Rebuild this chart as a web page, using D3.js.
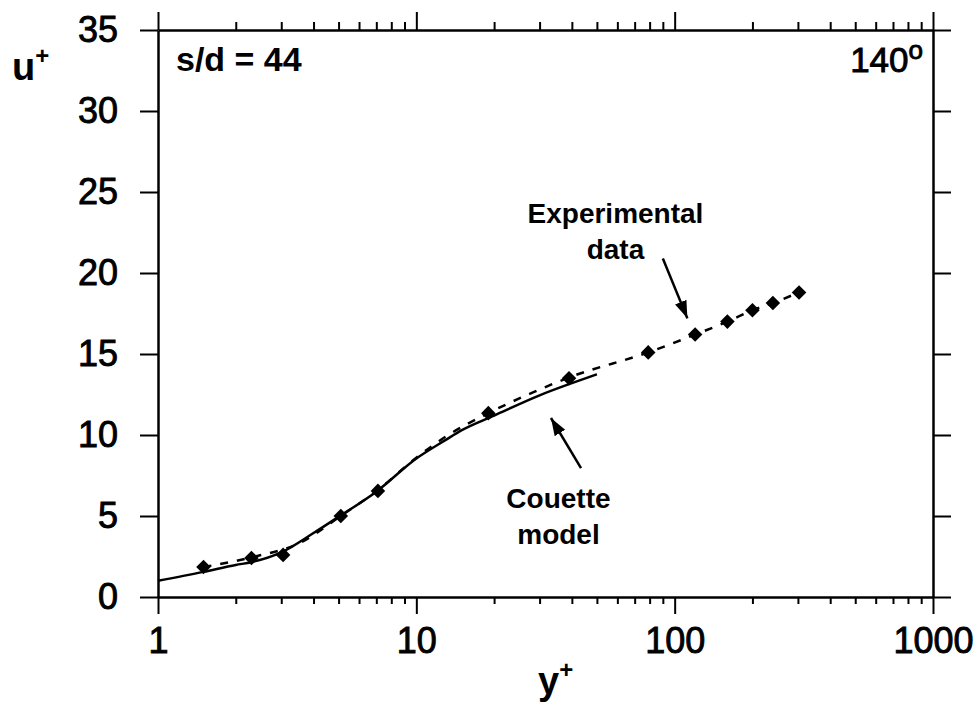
<!DOCTYPE html>
<html>
<head>
<meta charset="utf-8">
<script src="https://cdn.jsdelivr.net/npm/d3@7"></script>
<style>
  body { margin: 0; background: #fff; }
  text { font-family: "Liberation Sans", Arial, sans-serif; fill: #000; }
</style>
</head>
<body>
<div id="chart"></div>
<script>
// experimental data (diamonds)
const expYPlus = [1.5, 2.3, 3.05, 5.1, 7.1, 19, 39, 79, 120, 160, 200, 240, 303];
const expUPlus = [1.85, 2.41, 2.6, 5.0, 6.55, 11.35, 13.5, 15.1, 16.2, 17.0, 17.7, 18.15, 18.8];

// dashed fit through the experimental data
const fitYPlus = [1.5, 2.3, 3.5, 5.1, 7.1, 10, 13, 19, 28, 39, 79, 120, 160, 200, 240, 303];
const fitUPlus = [1.85, 2.45, 3.3, 5.0, 6.6, 8.6, 9.9, 11.35, 12.6, 13.55, 15.1, 16.2, 17.0, 17.7, 18.15, 18.8];

// Couette model (solid)
const modelYPlus = [1, 1.5, 2, 2.3, 3, 4, 5, 7, 10, 13, 15, 20, 30, 40, 50];
const modelUPlus = [1.0, 1.55, 1.98, 2.15, 2.75, 3.95, 4.95, 6.5, 8.55, 9.7, 10.3, 11.2, 12.45, 13.2, 13.75];

const xMajor = [1, 10, 100, 1000];
const xMinor = [2, 3, 4, 5, 6, 7, 8, 9, 20, 30, 40, 50, 60, 70, 80, 90, 200, 300, 400, 500, 600, 700, 800, 900];
const yTicks = [0, 5, 10, 15, 20, 25, 30, 35];

const fullWidth = 980, fullHeight = 705;
const margin = { top: 30, right: 47, bottom: 108, left: 158 };
const width = fullWidth - margin.left - margin.right;
const height = fullHeight - margin.top - margin.bottom;

const svg = d3.select("#chart").append("svg")
  .attr("width", fullWidth)
  .attr("height", fullHeight);

const chart = svg.append("g")
  .attr("transform", `translate(${margin.left},${margin.top})`);

const x = d3.scaleLog().domain([1, 1000]).range([0, width]);
const y = d3.scaleLinear().domain([0, 35]).range([height, 0]);

function styleAxis(g, labels) {
  g.select(".domain").attr("stroke", "#000").attr("stroke-width", 2.5);
  g.selectAll(".tick line").attr("stroke", "#000").attr("stroke-width", 2);
  if (labels) {
    g.selectAll(".tick text")
      .style("font-size", "36px")
      .style("fill", "#000")
      .style("stroke", "#000")
      .style("stroke-width", 0.9);
  } else {
    g.selectAll(".tick text").remove();
  }
}

// === Axes (frame with outward ticks) ===
chart.append("g")
  .attr("transform", `translate(0,${height})`)
  .call(d3.axisBottom(x).tickValues(xMajor).tickSize(17).tickSizeOuter(0)
    .tickPadding(13).tickFormat(d3.format("d")))
  .call(g => styleAxis(g, true));

chart.append("g")
  .attr("transform", `translate(0,${height})`)
  .call(d3.axisBottom(x).tickValues(xMinor).tickSize(7).tickSizeOuter(0))
  .call(g => { g.select(".domain").remove(); styleAxis(g, false); });

chart.append("g")
  .call(d3.axisTop(x).tickValues(xMajor).tickSize(18).tickSizeOuter(0))
  .call(g => styleAxis(g, false));

chart.append("g")
  .call(d3.axisTop(x).tickValues(xMinor).tickSize(8).tickSizeOuter(0))
  .call(g => { g.select(".domain").remove(); styleAxis(g, false); });

chart.append("g")
  .call(d3.axisLeft(y).tickValues(yTicks).tickSize(18).tickSizeOuter(0).tickPadding(22))
  .call(g => styleAxis(g, true));

chart.append("g")
  .attr("transform", `translate(${width},0)`)
  .call(d3.axisRight(y).tickValues(yTicks).tickSize(18).tickSizeOuter(0))
  .call(g => styleAxis(g, false));

// === Lines ===
const smooth = d3.line()
  .x(d => x(d[0]))
  .y(d => y(d[1]))
  .curve(d3.curveMonotoneX);

chart.append("path")
  .datum(modelYPlus.map((v, i) => [v, modelUPlus[i]]))
  .attr("d", smooth)
  .attr("fill", "none")
  .attr("stroke", "#000")
  .attr("stroke-width", 2.5);

chart.append("path")
  .datum(fitYPlus.map((v, i) => [v, fitUPlus[i]]))
  .attr("d", smooth)
  .attr("fill", "none")
  .attr("stroke", "#000")
  .attr("stroke-width", 2.5)
  .attr("stroke-dasharray", "8,9");

// === Diamonds ===
chart.selectAll(".pt")
  .data(expYPlus.map((v, i) => [v, expUPlus[i]]))
  .enter()
  .append("path")
  .attr("class", "pt")
  .attr("d", d3.symbol().type(d3.symbolDiamond2).size(135))
  .attr("transform", d => `translate(${x(d[0])},${y(d[1])})`)
  .attr("fill", "#000");

// === Annotations ===
const defs = svg.append("defs");
defs.append("marker")
  .attr("id", "arrow")
  .attr("viewBox", "0 0 10 10")
  .attr("refX", 10).attr("refY", 5)
  .attr("markerWidth", 7).attr("markerHeight", 7)
  .attr("markerUnits", "strokeWidth")
  .attr("orient", "auto")
  .append("path")
  .attr("d", "M0,1.5 L10,5 L0,8.5 Z")
  .attr("fill", "#000");

function arrow(x1, u1, x2, u2) {
  chart.append("line")
    .attr("x1", x(x1)).attr("y1", y(u1))
    .attr("x2", x(x2)).attr("y2", y(u2))
    .attr("stroke", "#000")
    .attr("stroke-width", 2.5)
    .attr("marker-end", "url(#arrow)");
}
arrow(90, 20.9, 112, 17.2);
arrow(43.4, 7.95, 33.2, 11.05);

function label(xv, uv, lines) {
  const t = chart.append("text")
    .attr("x", x(xv)).attr("y", y(uv))
    .attr("text-anchor", "middle")
    .style("font-size", "28px")
    .style("font-weight", "bold");
  lines.forEach((s, i) => {
    t.append("tspan").attr("x", x(xv)).attr("dy", i ? 36 : 0).text(s);
  });
}
label(59, 23.1, ["Experimental", "data"]);
label(35.5, 5.5, ["Couette", "model"]);

chart.append("text")
  .attr("x", 18).attr("y", 41)
  .style("font-size", "34px")
  .style("font-weight", "bold")
  .text("s/d = 44");

const ang = chart.append("text")
  .attr("x", width - 10).attr("y", 42)
  .attr("text-anchor", "end")
  .style("font-size", "35px")
  .style("stroke", "#000")
  .style("stroke-width", 0.9);
ang.append("tspan").text("140");
ang.append("tspan").attr("dy", -13).style("font-size", "26px").text("o");

// axis titles
const uLab = svg.append("text")
  .attr("x", 12).attr("y", 80)
  .style("font-size", "38px")
  .style("font-weight", "bold");
uLab.append("tspan").text("u");
uLab.append("tspan").attr("dy", -16).style("font-size", "24px").text("+");

const yLab = svg.append("text")
  .attr("x", 538).attr("y", 694)
  .style("font-size", "38px")
  .style("font-weight", "bold");
yLab.append("tspan").text("y");
yLab.append("tspan").attr("dy", -16).style("font-size", "24px").text("+");
</script>
</body>
</html>
